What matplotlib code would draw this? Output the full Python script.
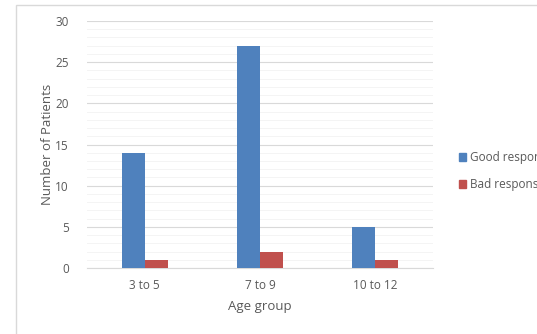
import matplotlib
matplotlib.use("Agg")
import matplotlib.pyplot as plt
from matplotlib.patches import Rectangle
import numpy as np

categories = ["3 to 5", "7 to 9", "10 to 12"]
good_response = [14, 27, 5]
bad_response = [1, 2, 1]
series_names = ["Good response", "Bad response"]
y_ticks = [0, 5, 10, 15, 20, 25, 30]

plt.rcParams["font.family"] = ["Open Sans", "DejaVu Sans"]
text_color = "#595959"

fig = plt.figure(figsize=(5.37, 3.34), dpi=100)
fig.patch.set_facecolor("white")

# chart frame
fig.add_artist(Rectangle((16 / 537, -0.01), 0.99, 1 - 5 / 334 + 0.01,
                         transform=fig.transFigure, fill=False,
                         edgecolor="#d9d9d9", linewidth=1.0))

ax = fig.add_axes([87 / 537, 1 - 268 / 334, (433 - 87) / 537, (268 - 21) / 334])
x = np.arange(len(categories))
w = 0.2
ax.bar(x - w / 2, good_response, width=w, color="#4f81bd", zorder=3)
ax.bar(x + w / 2, bad_response, width=w, color="#c0504d", zorder=3)

ax.set_xlim(-0.5, len(categories) - 0.5)
ax.set_ylim(0, 30)
ax.set_yticks(y_ticks)
ax.set_yticks(np.arange(0, 31, 1), minor=True)
ax.grid(axis="y", which="major", color="#d9d9d9", linewidth=0.8, zorder=0)
ax.grid(axis="y", which="minor", color="#f2f2f2", linewidth=0.6, zorder=0)
ax.set_xticks(x)
ax.set_xticklabels(categories)
ax.tick_params(axis="both", which="both", length=0, colors=text_color, labelsize=8.5)
ax.tick_params(axis="x", pad=8)
ax.tick_params(axis="y", pad=13)
for s in ["top", "right", "left"]:
    ax.spines[s].set_visible(False)
ax.spines["bottom"].set_color("#d9d9d9")

ax.set_xlabel("Age group", color=text_color, fontsize=9.5, labelpad=6)
ax.set_ylabel("Number of Patients", color=text_color, fontsize=9.5, labelpad=1)

leg = fig.legend(
    [Rectangle((0, 0), 1, 1, color="#4f81bd"), Rectangle((0, 0), 1, 1, color="#c0504d")],
    series_names, loc="center left", bbox_to_anchor=(448 / 537, 1 - 171 / 334),
    frameon=False, fontsize=8.5, handlelength=0.6, handleheight=0.6,
    handletextpad=0.35, labelspacing=1.2, labelcolor=text_color)

fig.savefig("out.png", dpi=100)
